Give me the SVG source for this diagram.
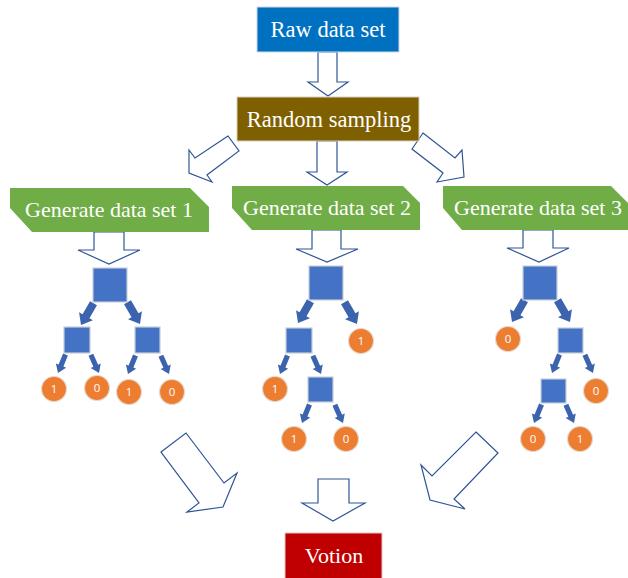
<svg xmlns="http://www.w3.org/2000/svg" xmlns:xlink="http://www.w3.org/1999/xlink" width="628" height="578" viewBox="0 0 628 578">
<style>
.lbl{font-family:"Liberation Serif","Times New Roman",serif;fill:#fff;text-anchor:middle}
.hollow{fill:#fff;stroke:#2F5597;stroke-width:1.2;stroke-linejoin:miter}
.sq{fill:#4472C4;stroke:#C9CED8;stroke-width:1.2}
.leaf{fill:#ED7D31;stroke:#E6D9CF;stroke-width:1.2}
.num{font-family:"Open Sans","Liberation Sans",Arial,sans-serif;font-size:11.5px;fill:#fff;text-anchor:middle}
.blk{fill:#3C64AE}
.gen{fill:#70AD47}
</style>
<defs>
<path id="big" d="M-4,-25 H4 V-10 H8 L0,0 L-8,-10 H-4 Z"/>
<path id="small" d="M-2.6,-20 H2.6 V-8 H5.5 L0,0 L-5.5,-8 H-2.6 Z"/>
</defs>
<rect width="628" height="578" fill="#fff"/>

<g id="connectors">
  <polygon class="hollow" points="318,52 337,52 337,82 348,82 328,96 308,82 318,82"/>
  <polygon class="hollow" points="317,141 337,141 337,172 347,172 327,185 307,172 317,172"/>
  <polygon class="hollow" points="228,136 195,158 189,150 189,173 212,182 207,175 239,151"/>
  <polygon class="hollow" points="423,133 455,158 462,150 464,177 437,182 443,173 412,149"/>
  <polygon class="hollow" points="94,232 124,232 124,250 140,250 109,264 78,250 94,250"/>
  <polygon class="hollow" points="312,230 341,230 341,249 358,249 327,262 296,249 312,249"/>
  <polygon class="hollow" points="523,230 553,230 553,248 569,248 539,262 507,248 523,248"/>
  <polygon class="hollow" points="161,452 186,433 224,483 237,473 223,507 187,512 199,503"/>
  <polygon class="hollow" points="476,432 498,453 454,499 465,509 430,500 421,465 432,476"/>
  <polygon class="hollow" points="318,479 349,479 349,503 365,503 333,521 302,503 318,503"/>
  <!-- tree 1 -->
  <use xlink:href="#big" class="blk" transform="translate(81,325) rotate(30)"/>
  <use xlink:href="#big" class="blk" transform="translate(140,324) rotate(-30)"/>
  <use xlink:href="#small" class="blk" transform="translate(58,373) rotate(22)"/>
  <use xlink:href="#small" class="blk" transform="translate(99,373) rotate(-24)"/>
  <use xlink:href="#small" class="blk" transform="translate(128,374) rotate(22)"/>
  <use xlink:href="#small" class="blk" transform="translate(169,374) rotate(-24)"/>
  <!-- tree 2 -->
  <use xlink:href="#big" class="blk" transform="translate(298,323) rotate(30)"/>
  <use xlink:href="#big" class="blk" transform="translate(357,324) rotate(-30)"/>
  <use xlink:href="#small" class="blk" transform="translate(280,374) rotate(22)"/>
  <use xlink:href="#small" class="blk" transform="translate(321,374) rotate(-24)"/>
  <use xlink:href="#small" class="blk" transform="translate(302,423) rotate(22)"/>
  <use xlink:href="#small" class="blk" transform="translate(343,423) rotate(-24)"/>
  <!-- tree 3 -->
  <use xlink:href="#big" class="blk" transform="translate(512,322) rotate(30)"/>
  <use xlink:href="#big" class="blk" transform="translate(570,322) rotate(-30)"/>
  <use xlink:href="#small" class="blk" transform="translate(552,373) rotate(22)"/>
  <use xlink:href="#small" class="blk" transform="translate(593,373) rotate(-24)"/>
  <use xlink:href="#small" class="blk" transform="translate(534,423) rotate(22)"/>
  <use xlink:href="#small" class="blk" transform="translate(574,423) rotate(-24)"/>
</g>

<g id="raw">
  <rect x="257" y="7" width="142" height="45" fill="#0070C0" stroke="#D0D8E8" stroke-width="1"/>
  <text class="lbl" x="328" y="37" font-size="22.5">Raw data set</text>
</g>
<g id="random">
  <rect x="237" y="97" width="182" height="44" fill="#7F6000" stroke="#D8D0C0" stroke-width="1"/>
  <text class="lbl" x="329" y="127" font-size="22.5">Random sampling</text>
</g>
<g id="gen1">
  <polygon class="gen" points="10,188 190,188 209,207 209,232 32,232 10,208"/>
  <text class="lbl" x="109" y="217" font-size="22">Generate data set 1</text>
</g>
<g id="gen2">
  <polygon class="gen" points="232,186 403,186 420,203 420,230 252,230 232,208"/>
  <text class="lbl" x="327" y="215" font-size="22">Generate data set 2</text>
</g>
<g id="gen3">
  <polygon class="gen" points="443,186 611,186 628,203 628,230 462,230 443,208"/>
  <text class="lbl" x="538" y="215" font-size="22">Generate data set 3</text>
</g>
<g id="votion">
  <rect x="285" y="533" width="97" height="50" fill="#C00000" stroke="#E0C8C8" stroke-width="1"/>
  <text class="lbl" x="334" y="563" font-size="22">Votion</text>
</g>

<g id="tree1">
  <rect class="sq" x="93" y="268" width="34" height="34"/>
  <rect class="sq" x="64" y="327" width="26" height="26"/>
  <rect class="sq" x="135" y="327" width="25" height="26"/>
  <circle class="leaf" cx="54" cy="389" r="12.5"/><text class="num" x="54" y="393">1</text>
  <circle class="leaf" cx="97" cy="388" r="12.5"/><text class="num" x="97" y="392">0</text>
  <circle class="leaf" cx="129" cy="392" r="12.5"/><text class="num" x="129" y="396">1</text>
  <circle class="leaf" cx="172" cy="392" r="12.5"/><text class="num" x="172" y="396">0</text>
</g>
<g id="tree2">
  <rect class="sq" x="309" y="266" width="34" height="34"/>
  <rect class="sq" x="286" y="328" width="26" height="25"/>
  <circle class="leaf" cx="361" cy="341" r="12.5"/><text class="num" x="361" y="345">1</text>
  <circle class="leaf" cx="275" cy="389" r="12.5"/><text class="num" x="275" y="393">1</text>
  <rect class="sq" x="308" y="377" width="25" height="25"/>
  <circle class="leaf" cx="294" cy="439" r="12.5"/><text class="num" x="294" y="443">1</text>
  <circle class="leaf" cx="346" cy="439" r="12.5"/><text class="num" x="346" y="443">0</text>
</g>
<g id="tree3">
  <rect class="sq" x="523" y="266" width="34" height="34"/>
  <circle class="leaf" cx="508" cy="339" r="12.5"/><text class="num" x="508" y="343">0</text>
  <rect class="sq" x="558" y="328" width="25" height="25"/>
  <rect class="sq" x="541" y="379" width="25" height="24"/>
  <circle class="leaf" cx="596" cy="391" r="12.5"/><text class="num" x="596" y="395">0</text>
  <circle class="leaf" cx="533" cy="439" r="12.5"/><text class="num" x="533" y="443">0</text>
  <circle class="leaf" cx="580" cy="439" r="12.5"/><text class="num" x="580" y="443">1</text>
</g>
</svg>
